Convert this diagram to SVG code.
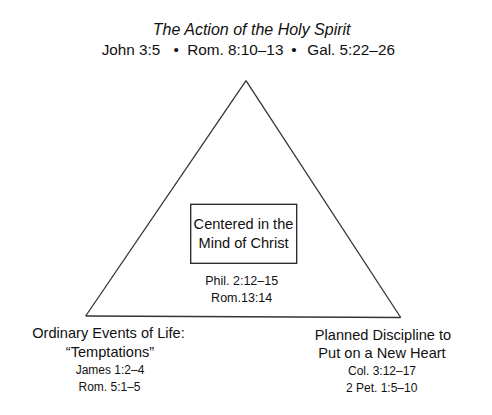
<svg xmlns="http://www.w3.org/2000/svg" width="492" height="415" viewBox="0 0 492 415">
<style>
text { font-family: "Liberation Sans", Arial, sans-serif; fill: #111; text-anchor: middle; }
.big { font-size: 14.6px; }
.small { font-size: 12px; }
.title { font-size: 16px; font-style: italic; }
.refs { font-size: 15.3px; text-anchor: start; }
.edge { fill: none; stroke: #333; stroke-width: 1.3; }
.box { fill: #fff; stroke: #222; stroke-width: 1.3; }
</style>
<rect width="492" height="415" fill="#fff"/>
<g id="connectors">
<line class="edge" x1="246" y1="80.7" x2="85.7" y2="316"/>
<line class="edge" x1="246" y1="80.7" x2="400.7" y2="317.5"/>
<line class="edge" x1="85.7" y1="316" x2="400.7" y2="317.5"/>
</g>
<g id="node-top">
<text class="title" x="251.7" y="35">The Action of the Holy Spirit</text>
<text class="refs" y="54.7"><tspan x="101.7">John 3:5</tspan><tspan x="173.5">•</tspan><tspan x="187.3">Rom. 8:10–13</tspan><tspan x="291.2">•</tspan><tspan x="307.3">Gal. 5:22–26</tspan></text>
</g>
<g id="node-center">
<rect class="box" x="190.7" y="204.3" width="106" height="59"/>
<text class="big" x="243.5" y="229.3">Centered in the</text>
<text class="big" x="243.5" y="247.7">Mind of Christ</text>
<text class="small" x="241.7" y="285" style="font-size:12.5px">Phil. 2:12–15</text>
<text class="small" x="241.7" y="301.7" style="font-size:12.5px">Rom.13:14</text>
</g>
<g id="node-left">
<text class="big" x="108.5" y="338.3">Ordinary Events of Life:</text>
<text class="big" x="110" y="357">“Temptations”</text>
<text class="small" x="110" y="373.5">James 1:2–4</text>
<text class="small" x="109.5" y="390.5">Rom. 5:1–5</text>
</g>
<g id="node-right">
<text class="big" x="383" y="340">Planned Discipline to</text>
<text class="big" x="382" y="358.3">Put on a New Heart</text>
<text class="small" x="382" y="375">Col. 3:12–17</text>
<text class="small" x="381.7" y="391.7">2 Pet. 1:5–10</text>
</g>
</svg>
